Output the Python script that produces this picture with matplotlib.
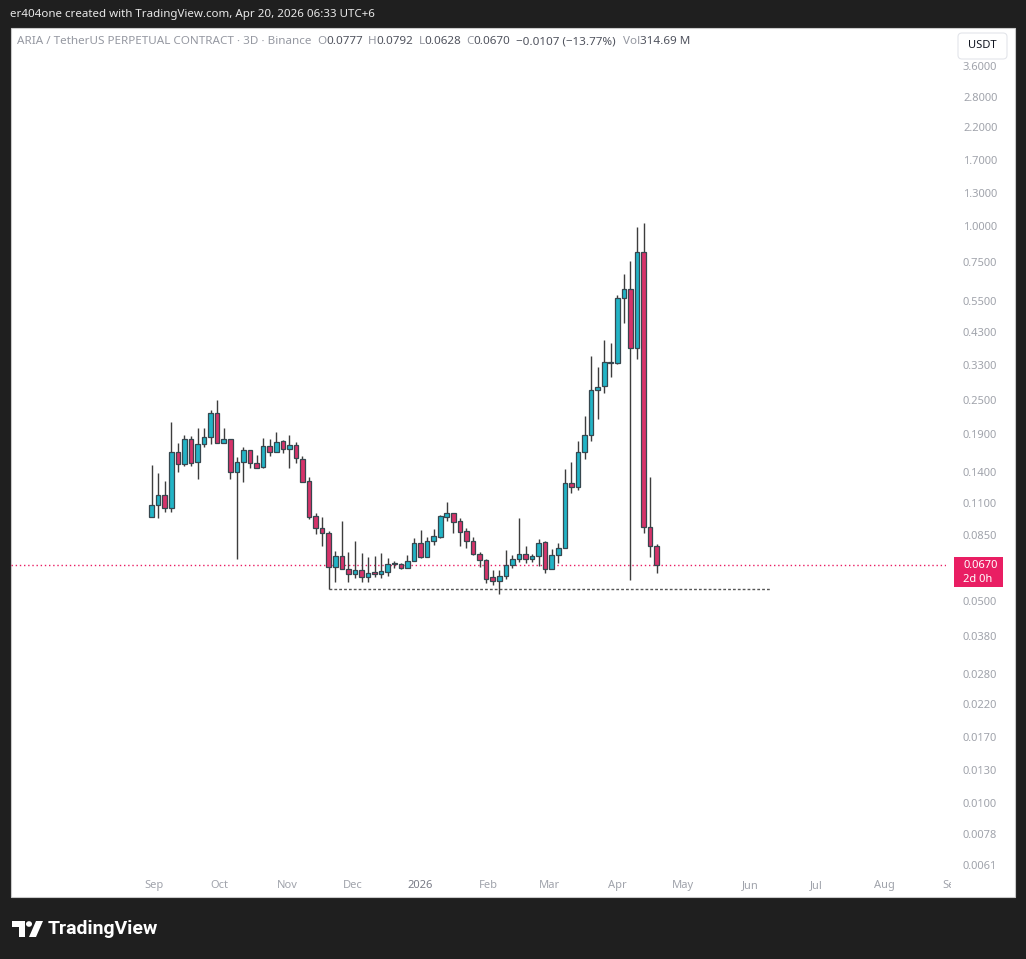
import numpy as np
import matplotlib
matplotlib.use('Agg')
import matplotlib.pyplot as plt
import matplotlib.dates as mdates
from matplotlib.patches import Rectangle, FancyBboxPatch, Circle, Polygon
from matplotlib.transforms import Bbox, TransformedBbox

# ARIA/USDT perp, 3D candles
first_bar = '2025-08-31'
bar_days = 3
opens = [.0983, .1075, .1169, .1053, .1647, .1497, .1826, .1520, .1755, .1850,
         .2247, .1769, .1826, .1408, .1525, .1674, .1509, .1460, .1727, .1650,
         .1797, .1683, .1741, .1557, .1306, .0988, .0896, .0861, .0659, .0718,
         .0647, .0620, .0642, .0609, .0630, .0621, .0630, .0677, .0672, .0654,
         .0692, .0794, .0714, .0810, .0838, .0984, .1010, .0950, .0877, .0812,
         .0732, .0695, .0605, .0587, .0612, .0668, .0699, .0732, .0701, .0718,
         .0800, .0647, .0724, .0766, .1283, .1249, .1643, .1886, .2701, .2780,
         .3370, .3340, .5615, .6034, .3766, .8107, .0902, .0777]
highs = [.1485, .1393, .1306, .2092, .1769, .1886, .1870, .1994, .1994, .2302,
         .2493, .1994, .1830, .1583, .1717, .1680, .1608, .1842, .1826, .1926,
         .1812, .1886, .1783, .1590, .1352, .1012, .0983, .0877, .0747, .0950,
         .0743, .0810, .0738, .0714, .0719, .0734, .0705, .0690, .0677, .0724,
         .0830, .0884, .0838, .0889, .0996, .1108, .1012, .0969, .0896, .0838,
         .0743, .0701, .0642, .0642, .0753, .0724, .0975, .0777, .0728, .0820,
         .0812, .0757, .0794, .1434, .1525, .1802, .2194, .3543, .3251, .4026,
         .3938, .5766, .6817, .7563, .9944, 1.0218, .1352, .0792]
lows = [.0980, .0972, .1020, .1020, .1404, .1473, .1473, .1328, .1713, .1755,
        .1769, .1769, .1328, .0701, .1299, .1450, .1450, .1455, .1599, .1645,
        .1630, .1446, .1505, .1295, .0965, .0854, .0779, .0551, .0582, .0645,
        .0582, .0604, .0582, .0585, .0609, .0602, .0614, .0651, .0648, .0651,
        .0690, .0705, .0712, .0784, .0826, .0950, .0861, .0779, .0767, .0726,
        .0659, .0577, .0570, .0530, .0600, .0651, .0685, .0677, .0685, .0663,
        .0626, .0645, .0680, .0764, .1184, .1213, .1553, .1802, .2139, .2643,
        .2990, .3335, .4607, .0593, .3453, .0866, .0710, .0628]
closes = [.1079, .1169, .1053, .1647, .1497, .1826, .1513, .1755, .1856, .2247,
          .1769, .1826, .1408, .1525, .1674, .1509, .1453, .1727, .1650, .1779,
          .1683, .1741, .1566, .1299, .0983, .0896, .0861, .0659, .0718, .0647,
          .0620, .0642, .0609, .0626, .0620, .0636, .0672, .0675, .0654, .0692,
          .0794, .0714, .0810, .0843, .0988, .1010, .0945, .0872, .0812, .0732,
          .0695, .0600, .0587, .0612, .0668, .0699, .0732, .0701, .0718, .0794,
          .0647, .0724, .0767, .1283, .1249, .1643, .1886, .2701, .2775, .3365,
          .3362, .5615, .6034, .3766, .8107, .0902, .0777, .0670]

price_ticks = [3.6, 2.8, 2.2, 1.7, 1.3, 1.0, 0.75, 0.55, 0.43, 0.33, 0.25, 0.19,
               0.14, 0.11, 0.085, 0.05, 0.038, 0.028, 0.022, 0.017, 0.013, 0.010,
               0.0078, 0.0061]
month_ticks = ['2025-09-01', '2025-10-01', '2025-11-01', '2025-12-01', '2026-01-01',
               '2026-02-01', '2026-03-01', '2026-04-01', '2026-05-01', '2026-06-01',
               '2026-07-01', '2026-08-01', '2026-09-01']
month_labels = ['Sep', 'Oct', 'Nov', 'Dec', '2026', 'Feb', 'Mar', 'Apr', 'May',
                'Jun', 'Jul', 'Aug', 'Sep']
last_price = 0.0670
countdown = '2d 0h'
support_level = 0.0551
support_from = '2025-11-20'
support_to = '2026-06-10'

W, H = 1026, 959
UP = '#22b4c6'
DOWN = '#d6336a'
EDGE = '#37474f'
GRAY = '#a0a3ab'
FONT = 'Noto Sans'

def fx(x):
    return x / W

def fy(y):
    return 1 - y / H

fig = plt.figure(figsize=(W / 100, H / 100), dpi=100, facecolor='#1f1f1f')

# white chart panel
fig.add_artist(Rectangle((fx(11), fy(897)), 1004 / W, 869 / H, transform=fig.transFigure,
                         fc='white', ec='#c9c9c9', lw=0.8, zorder=-5))

ax = fig.add_axes([fx(11), fy(872), 935 / W, 844 / H])
ax.set_facecolor('none')
for s in ax.spines.values():
    s.set_visible(False)

o = np.array(opens)
h = np.array(highs)
l = np.array(lows)
c = np.array(closes)
x0 = mdates.date2num(np.datetime64(first_bar))
x = x0 + np.arange(len(o)) * bar_days
up = c >= o
cols = np.where(up, UP, DOWN)

ax.vlines(x, l, h, color='#3d3d3d', lw=1, zorder=2)
ax.bar(x, np.maximum(np.abs(c - o), 1e-5), bottom=np.minimum(o, c), width=2.1,
       color=cols, edgecolor=EDGE, linewidth=0.9, zorder=3)

ax.axhline(last_price, color='#e91e63', ls=(0, (1, 2)), lw=1, zorder=1)
ax.hlines(support_level, mdates.date2num(np.datetime64(support_from)),
          mdates.date2num(np.datetime64(support_to)), color='#555555',
          ls=(0, (2, 1.5)), lw=1, zorder=1)

ax.set_yscale('log')
ax.set_ylim(0.005765, 4.857)
ax.set_xlim(x0 - 64.3, x0 + 363.3)
ax.minorticks_off()
ax.yaxis.tick_right()
ax.set_yticks(price_ticks)
ax.set_yticklabels(['%.4f' % v for v in price_ticks])
ax.tick_params(axis='y', length=0, pad=12.2, labelcolor=GRAY, labelsize=8)
for t in ax.get_yticklabels():
    t.set_family(FONT)
ax.set_xticks([])

clip = TransformedBbox(Bbox.from_extents(0, 0, 951 / W, 1), fig.transFigure)
for d, lab in zip(month_ticks, month_labels):
    xd = mdates.date2num(np.datetime64(d))
    t = ax.text(xd, -0.0165, lab, transform=ax.get_xaxis_transform(), ha='center',
                va='center', fontsize=8, family=FONT,
                color='#787b86' if lab == '2026' else GRAY, clip_on=True)
    t.set_clip_box(clip)

# last price tag
fig.add_artist(Rectangle((fx(954), fy(587)), 49 / W, 30 / H, transform=fig.transFigure,
                         fc='#e91e63', ec='none', zorder=5))
fig.text(fx(963), fy(566), '%.4f' % last_price, color='white', fontsize=8, family=FONT,
         weight='bold', va='center', ha='left', zorder=6)
fig.text(fx(963), fy(579), countdown, color='white', fontsize=8, family=FONT,
         weight='bold', va='center', ha='left', zorder=6)

# currency button
fig.add_artist(FancyBboxPatch((fx(958), fy(59)), 49 / W, 26 / H, boxstyle='round,pad=0,rounding_size=0.004',
                              transform=fig.transFigure, fc='white', ec='#e3e5ea', lw=0.8, zorder=5))
fig.text(fx(982), fy(46), 'USDT', color='#131722', fontsize=8, family=FONT,
         va='center', ha='center', zorder=6)

# top caption
fig.text(fx(10), fy(14), 'er404one created with TradingView.com, Apr 20, 2026 06:33 UTC+6',
         color='#e8e8e8', fontsize=8.3, family=FONT, va='center', ha='left')

# legend line with OHLC
r = fig.canvas.get_renderer()
lg = '#9598a1'
dk = '#50535e'
parts = [('ARIA / TetherUS PERPETUAL CONTRACT · 3D · Binance', lg, 6),
         ('O', lg, 0), ('%.4f' % opens[-1], dk, 5),
         ('H', lg, 0), ('%.4f' % highs[-1], dk, 5),
         ('L', lg, 0), ('%.4f' % lows[-1], dk, 5),
         ('C', lg, 0), ('%.4f' % closes[-1], dk, 6),
         ('−0.0107 (−13.77%)', dk, 7),
         ('Vol', lg, 0), ('314.69 M', dk, 0)]
px = 17
for s, col, gap in parts:
    t = fig.text(fx(px), fy(42), s, color=col, fontsize=8.4, family=FONT, va='center', ha='left')
    px += t.get_window_extent(r).width + gap

# TradingView logo
fig.add_artist(Polygon([(fx(12), fy(921)), (fx(25), fy(921)), (fx(25), fy(937)),
                        (fx(19), fy(937)), (fx(19), fy(927)), (fx(12), fy(927))],
                       closed=True, transform=fig.transFigure, fc='white', ec='none'))
fig.add_artist(Circle((fx(29), fy(924)), 3 / W, transform=fig.transFigure, fc='white', ec='none'))
fig.add_artist(Polygon([(fx(29), fy(937)), (fx(36), fy(921)), (fx(43), fy(921)), (fx(36), fy(937))],
                       closed=True, transform=fig.transFigure, fc='white', ec='none'))
fig.text(fx(48), fy(929), 'TradingView', color='white', fontsize=14, family='Roboto',
         weight='bold', va='center', ha='left')

fig.savefig('out.png', dpi=100, facecolor=fig.get_facecolor())
